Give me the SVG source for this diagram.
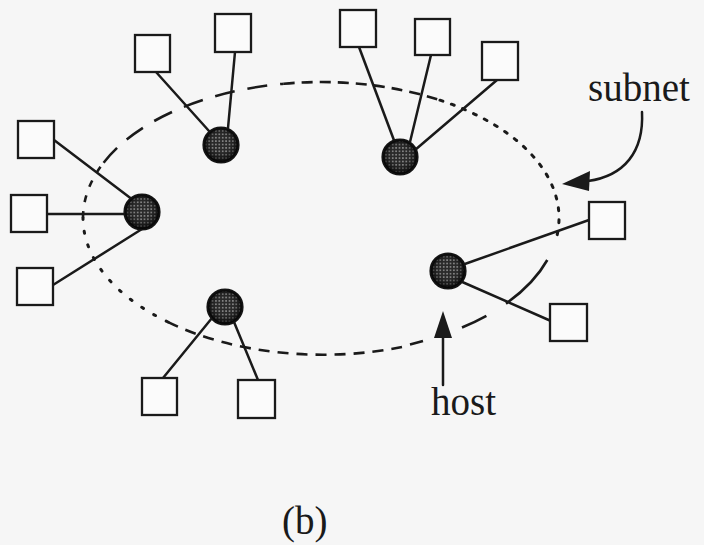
<svg xmlns="http://www.w3.org/2000/svg" width="704" height="545" viewBox="0 0 704 545">
<style>
.box{fill:#fbfbfb;stroke:#1a1a1a;stroke-width:2.3}
.spoke{stroke:#1a1a1a;stroke-width:2.5;fill:none;stroke-linecap:round}
.hub{fill:url(#dots);stroke:#141414;stroke-width:3.2}
.ell{fill:none;stroke:#1a1a1a;stroke-width:2.6}
.dot{fill:none;stroke:#1a1a1a;stroke-width:3;stroke-linecap:round}
.lbl{font-family:"Liberation Serif","Times New Roman",serif;font-size:39px;fill:#1a1a1a}
</style>
<defs>
<pattern id="dots" width="3.4" height="3.4" patternUnits="userSpaceOnUse">
<rect width="3.4" height="3.4" fill="#2a2a2a"/>
<circle cx="1.7" cy="1.7" r="0.9" fill="#959595"/>
</pattern>
<radialGradient id="shade" cx="0.5" cy="0.45" r="0.55">
<stop offset="0.5" stop-color="#000" stop-opacity="0"/>
<stop offset="1" stop-color="#000" stop-opacity="0.75"/>
</radialGradient>
</defs>
<rect width="704" height="545" fill="#f6f6f6"/>

<g id="connectors">
<!-- subnet ring, varying dash -->
<path class="dot" stroke-dasharray="2 12" d="M168,322 A238 136 0 0 1 83,218"/>
<path class="ell" stroke-dasharray="7 9" d="M83,218 A238 136 0 0 1 103.6,162.7"/>
<path class="ell" stroke-dasharray="20 13" d="M103.6,162.7 A238 136 0 0 1 283.8,83.7"/>
<path class="ell" stroke-dasharray="11 7" d="M283.8,83.7 A238 136 0 0 1 440,100.2"/>
<path class="dot" stroke-dasharray="3 9" d="M440,100.2 A238 136 0 0 1 555.4,241.6"/>
<path class="ell" d="M547.3,260 A238 136 0 0 1 506,303.6"/>
<path class="ell" d="M486.4,315.8 A238 136 0 0 1 462,327.5"/>
<path class="ell" d="M423,341 A238 136 0 0 1 410,344.5"/>
<path class="ell" stroke-dasharray="11 8" d="M402,347 A238 136 0 0 1 168,322"/>
<!-- spokes -->
<line class="spoke" x1="156" y1="72" x2="209" y2="131"/>
<line class="spoke" x1="235" y1="52" x2="228" y2="128"/>
<line class="spoke" x1="54" y1="140" x2="133" y2="200"/>
<line class="spoke" x1="47" y1="214" x2="125" y2="214"/>
<line class="spoke" x1="53" y1="285" x2="142" y2="229"/>
<line class="spoke" x1="163" y1="378" x2="212" y2="318"/>
<line class="spoke" x1="258" y1="380" x2="234" y2="322"/>
<line class="spoke" x1="359" y1="47" x2="395" y2="143"/>
<line class="spoke" x1="431" y1="55" x2="410" y2="142"/>
<line class="spoke" x1="497" y1="80" x2="415" y2="150"/>
<line class="spoke" x1="589" y1="220" x2="462" y2="265"/>
<line class="spoke" x1="551" y1="321" x2="460" y2="281"/>
<!-- label arrows -->
<path class="spoke" d="M642,112 C644,152 624,176 588,181"/>
<polygon points="562,184 590,171 589,191" fill="#1a1a1a"/>
<line class="spoke" x1="443" y1="336" x2="443" y2="385"/>
<polygon points="443,311 434,338 452,338" fill="#1a1a1a"/>
</g>

<g id="box-a"><rect class="box" x="135" y="35" width="35" height="37"/></g>
<g id="box-b"><rect class="box" x="215" y="14" width="36" height="38"/></g>
<g id="box-c"><rect class="box" x="18" y="121" width="36" height="37"/></g>
<g id="box-d"><rect class="box" x="11" y="195" width="36" height="37"/></g>
<g id="box-e"><rect class="box" x="17" y="268" width="36" height="37"/></g>
<g id="box-f"><rect class="box" x="142" y="378" width="35" height="37"/></g>
<g id="box-g"><rect class="box" x="238" y="380" width="37" height="38"/></g>
<g id="box-h"><rect class="box" x="340" y="10" width="36" height="37"/></g>
<g id="box-i"><rect class="box" x="415" y="19" width="35" height="36"/></g>
<g id="box-j"><rect class="box" x="482" y="42" width="36" height="38"/></g>
<g id="box-k"><rect class="box" x="589" y="202" width="36" height="37"/></g>
<g id="box-l"><rect class="box" x="550" y="304" width="37" height="37"/></g>

<g id="hub-1"><circle class="hub" cx="221" cy="145" r="17"/><circle cx="221" cy="145" r="17" fill="url(#shade)"/></g>
<g id="hub-2"><circle class="hub" cx="142" cy="212" r="17"/><circle cx="142" cy="212" r="17" fill="url(#shade)"/></g>
<g id="hub-3"><circle class="hub" cx="225" cy="307" r="17"/><circle cx="225" cy="307" r="17" fill="url(#shade)"/></g>
<g id="hub-4"><circle class="hub" cx="400" cy="157" r="17"/><circle cx="400" cy="157" r="17" fill="url(#shade)"/></g>
<g id="hub-5"><circle class="hub" cx="448" cy="271" r="17"/><circle cx="448" cy="271" r="17" fill="url(#shade)"/></g>

<g id="labels">
<text class="lbl" x="588" y="101">subnet</text>
<text class="lbl" x="431" y="415">host</text>
<text class="lbl" x="282" y="534">(b)</text>
</g>
</svg>
